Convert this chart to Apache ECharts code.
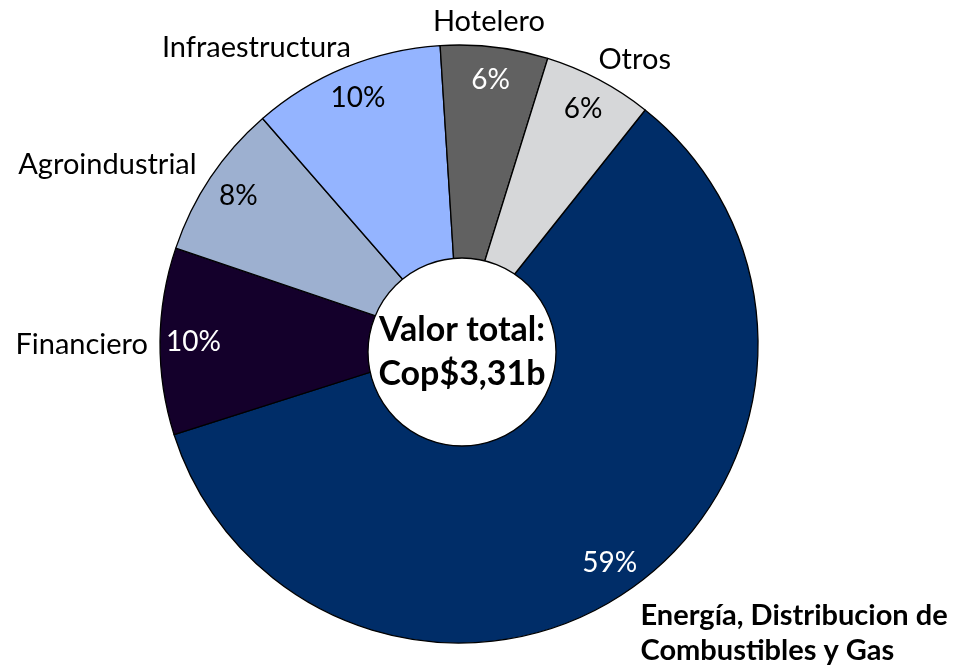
<!DOCTYPE html>
<html>
<head>
<meta charset="utf-8">
<script src="https://cdn.jsdelivr.net/npm/echarts@6/dist/echarts.min.js"></script>
<style>
  html, body { margin: 0; padding: 0; background: #fff; }
  #visualisation { width: 957px; height: 672px; }
</style>
</head>
<body>
<div id="visualisation"></div>
<script>
// Sectores y su participación (%).
const categories = ['Energía, Distribucion de\nCombustibles y Gas', 'Financiero', 'Agroindustrial', 'Infraestructura', 'Hotelero', 'Otros'];
const shares = [59.4, 10.1, 8.4, 10.4, 5.8, 5.9];
const totalText = ['Valor total:', 'Cop$3,31b'];

// Estilos.
const sliceColors = ['#002D68', '#14002B', '#9DB0D0', '#94B4FF', '#616161', '#D6D7D9'];
const pctColors = ['#fff', '#fff', '#000', '#000', '#fff', '#000'];
const nameNudge = [[2, 33], [3, 3], [-1, -6], [13, -9], [-66, -14], [-9, -9]];
const font = 'Lato';

function drawVisualisation() {
    let visualisation = echarts.init(document.getElementById('visualisation'));

    let sliceData = categories.map((c, i) => ({
        name: c,
        value: shares[i],
        itemStyle: { color: sliceColors[i] },
        label: i === 0 ? { fontWeight: 'bold', fontSize: 29, lineHeight: 35 } : {}
    }));

    let pctData = categories.map((c, i) => ({
        name: c,
        value: shares[i],
        label: { color: pctColors[i] }
    }));

    let option = {
        animation: false,
        series: [
            {
                // De taart zelf met de namen erbuiten.
                type: 'pie',
                center: [459, 344],
                radius: [0, 299],
                startAngle: 51.5,
                clockwise: true,
                avoidLabelOverlap: false,
                silent: true,
                itemStyle: { borderColor: '#000', borderWidth: 1.3 },
                label: {
                    show: true,
                    position: 'outside',
                    formatter: '{b}',
                    fontFamily: font,
                    fontSize: 29,
                    color: '#000',
                    distanceToLabelLine: 3
                },
                labelLine: { show: false, length: 12, length2: 0 },
                labelLayout: function (params) {
                    let o = nameNudge[params.dataIndex];
                    return { dx: o[0], dy: o[1] };
                },
                data: sliceData
            },
            {
                // Percentages dicht bij de rand.
                type: 'pie',
                center: [459, 344],
                radius: [226, 299],
                startAngle: 51.5,
                clockwise: true,
                silent: true,
                itemStyle: { color: 'rgba(0,0,0,0)', borderWidth: 0 },
                label: {
                    show: true,
                    position: 'inside',
                    formatter: p => Math.round(p.percent) + '%',
                    fontFamily: font,
                    fontSize: 28
                },
                labelLine: { show: false },
                data: pctData
            },
            {
                // Witte cirkel met het totaal.
                type: 'pie',
                center: [462, 352],
                radius: [0, 94],
                silent: true,
                itemStyle: { color: '#fff', borderColor: '#000', borderWidth: 1.3 },
                label: {
                    show: true,
                    position: 'center',
                    formatter: totalText.join('\n'),
                    fontFamily: font,
                    fontWeight: 'bold',
                    fontSize: 34,
                    lineHeight: 44,
                    color: '#000'
                },
                labelLine: { show: false },
                data: [{ name: 'total', value: 1 }]
            }
        ]
    };

    visualisation.setOption(option);
}

window.addEventListener('load', drawVisualisation);
</script>
</body>
</html>
